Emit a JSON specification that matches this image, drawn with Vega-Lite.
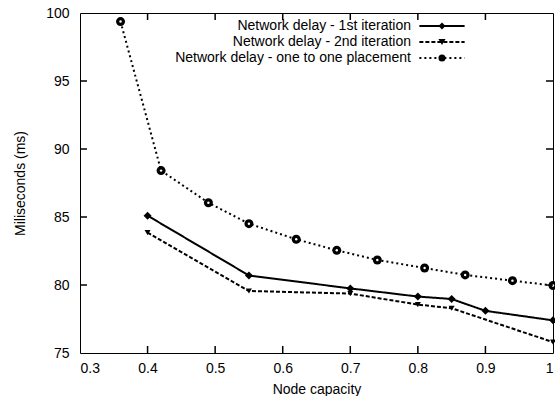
{
  "$schema": "https://vega.github.io/schema/vega-lite/v6.json",
  "width": 473,
  "height": 340,
  "autosize": {"type": "none"},
  "padding": {"left": 80, "top": 13, "right": 2, "bottom": 43},
  "background": "white",
  "config": {
    "font": "Liberation Sans",
    "view": {"stroke": "black", "strokeWidth": 1},
    "axis": {
      "domain": false, "ticks": false, "grid": false,
      "labelColor": "black", "labelFontSize": 14, "labelFont": "Liberation Sans",
      "titleColor": "black", "titleFontSize": 14, "titleFontWeight": "normal", "titleFont": "Liberation Sans"
    },
    "legend": {"labelFont": "Liberation Sans", "labelFontSize": 14, "labelColor": "black"}
  },
  "data": {
    "values": [
      {"series": "Network delay - 1st iteration", "x": 0.4, "y": 85.1},
      {"series": "Network delay - 1st iteration", "x": 0.55, "y": 80.7},
      {"series": "Network delay - 1st iteration", "x": 0.7, "y": 79.75},
      {"series": "Network delay - 1st iteration", "x": 0.8, "y": 79.15},
      {"series": "Network delay - 1st iteration", "x": 0.85, "y": 78.97},
      {"series": "Network delay - 1st iteration", "x": 0.9, "y": 78.1},
      {"series": "Network delay - 1st iteration", "x": 1.0, "y": 77.4},
      {"series": "Network delay - 2nd iteration", "x": 0.4, "y": 83.85},
      {"series": "Network delay - 2nd iteration", "x": 0.55, "y": 79.56},
      {"series": "Network delay - 2nd iteration", "x": 0.7, "y": 79.37},
      {"series": "Network delay - 2nd iteration", "x": 0.8, "y": 78.56},
      {"series": "Network delay - 2nd iteration", "x": 0.85, "y": 78.29},
      {"series": "Network delay - 2nd iteration", "x": 1.0, "y": 75.8},
      {"series": "Network delay - one to one placement", "x": 0.36, "y": 99.37},
      {"series": "Network delay - one to one placement", "x": 0.42, "y": 88.41},
      {"series": "Network delay - one to one placement", "x": 0.49, "y": 86.05},
      {"series": "Network delay - one to one placement", "x": 0.55, "y": 84.51},
      {"series": "Network delay - one to one placement", "x": 0.62, "y": 83.36},
      {"series": "Network delay - one to one placement", "x": 0.68, "y": 82.55},
      {"series": "Network delay - one to one placement", "x": 0.74, "y": 81.84},
      {"series": "Network delay - one to one placement", "x": 0.81, "y": 81.25},
      {"series": "Network delay - one to one placement", "x": 0.87, "y": 80.74},
      {"series": "Network delay - one to one placement", "x": 0.94, "y": 80.32},
      {"series": "Network delay - one to one placement", "x": 1.0, "y": 79.96}
    ]
  },
  "layer": [
    {
      "mark": {"type": "line", "color": "black", "strokeWidth": 2},
      "encoding": {
        "x": {"field": "x", "type": "quantitative",
          "scale": {"domain": [0.3, 1], "nice": false, "zero": false},
          "axis": {"orient": "bottom", "values": [0.3, 0.4, 0.5, 0.6, 0.7, 0.8, 0.9, 1], "format": ".1~f", "title": "Node capacity", "labelPadding": 8, "titlePadding": 7}},
        "y": {"field": "y", "type": "quantitative",
          "scale": {"domain": [75, 100], "nice": false, "zero": false},
          "axis": {"orient": "left", "values": [75, 80, 85, 90, 95, 100], "title": "Miliseconds (ms)", "labelPadding": 11, "titlePadding": 18}},
        "strokeDash": {"field": "series", "type": "nominal",
          "scale": {"range": [[1, 0], [4, 2], [2, 3]]},
          "legend": {"orient": "none", "legendX": 355, "legendY": 6, "title": null, "symbolType": "M-6.4,0H6.4", "symbolSize": 50, "symbolStrokeWidth": 2, "symbolStrokeColor": "black", "symbolFillColor": "transparent", "labelAlign": "right", "labelOffset": -38, "labelLimit": 400, "rowPadding": 2, "padding": 0}}
      }
    },
    {
      "transform": [{"filter": "datum.series == 'Network delay - 1st iteration'"}],
      "mark": {"type": "point", "filled": true, "color": "black", "opacity": 1, "size": 64},
      "encoding": {
        "x": {"field": "x", "type": "quantitative"},
        "y": {"field": "y", "type": "quantitative"},
        "shape": {"field": "series", "type": "nominal",
          "scale": {"domain": ["Network delay - 1st iteration", "Network delay - 2nd iteration", "Network delay - one to one placement"], "range": ["diamond", "triangle-down", "circle"]},
          "legend": {"orient": "none", "legendX": 355, "legendY": 6, "title": null, "symbolSize": 50, "symbolStrokeWidth": 1, "symbolFillColor": "black", "symbolStrokeColor": "black", "labelExpr": "' '", "rowPadding": 2, "padding": 0}}
      }
    },
    {
      "transform": [{"filter": "datum.series == 'Network delay - 2nd iteration'"}],
      "mark": {"type": "point", "filled": true, "color": "black", "opacity": 1, "size": 36},
      "encoding": {
        "x": {"field": "x", "type": "quantitative"},
        "y": {"field": "y", "type": "quantitative"},
        "shape": {"field": "series", "type": "nominal"}
      }
    },
    {
      "transform": [{"filter": "datum.series == 'Network delay - one to one placement'"}],
      "mark": {"type": "point", "filled": true, "color": "black", "opacity": 1, "size": 81},
      "encoding": {
        "x": {"field": "x", "type": "quantitative"},
        "y": {"field": "y", "type": "quantitative"},
        "shape": {"field": "series", "type": "nominal"}
      }
    },
    {
      "transform": [{"filter": "datum.series == 'Network delay - one to one placement'"}],
      "mark": {"type": "point", "shape": "circle", "filled": true, "color": "white", "opacity": 1, "size": 6},
      "encoding": {
        "x": {"field": "x", "type": "quantitative"},
        "y": {"field": "y", "type": "quantitative"}
      }
    },
    {
      "data": {"values": [{"v": 0.4}, {"v": 0.5}, {"v": 0.6}, {"v": 0.7}, {"v": 0.8}, {"v": 0.9}]},
      "mark": {"type": "tick", "orient": "vertical", "color": "black", "size": 7, "thickness": 1.5, "opacity": 1, "yOffset": -3.5},
      "encoding": {
        "x": {"field": "v", "type": "quantitative"},
        "y": {"datum": 75, "type": "quantitative"}
      }
    },
    {
      "data": {"values": [{"v": 0.4}, {"v": 0.5}, {"v": 0.6}, {"v": 0.7}, {"v": 0.8}, {"v": 0.9}]},
      "mark": {"type": "tick", "orient": "vertical", "color": "black", "size": 7, "thickness": 1.5, "opacity": 1, "yOffset": 3.5},
      "encoding": {
        "x": {"field": "v", "type": "quantitative"},
        "y": {"datum": 100, "type": "quantitative"}
      }
    },
    {
      "data": {"values": [{"v": 80}, {"v": 85}, {"v": 90}, {"v": 95}]},
      "mark": {"type": "tick", "orient": "horizontal", "color": "black", "size": 7, "thickness": 1.5, "opacity": 1, "xOffset": 3.5},
      "encoding": {
        "y": {"field": "v", "type": "quantitative"},
        "x": {"datum": 0.3, "type": "quantitative"}
      }
    },
    {
      "data": {"values": [{"v": 80}, {"v": 85}, {"v": 90}, {"v": 95}]},
      "mark": {"type": "tick", "orient": "horizontal", "color": "black", "size": 7, "thickness": 1.5, "opacity": 1, "xOffset": -3.5},
      "encoding": {
        "y": {"field": "v", "type": "quantitative"},
        "x": {"datum": 1, "type": "quantitative"}
      }
    }
  ]
}
